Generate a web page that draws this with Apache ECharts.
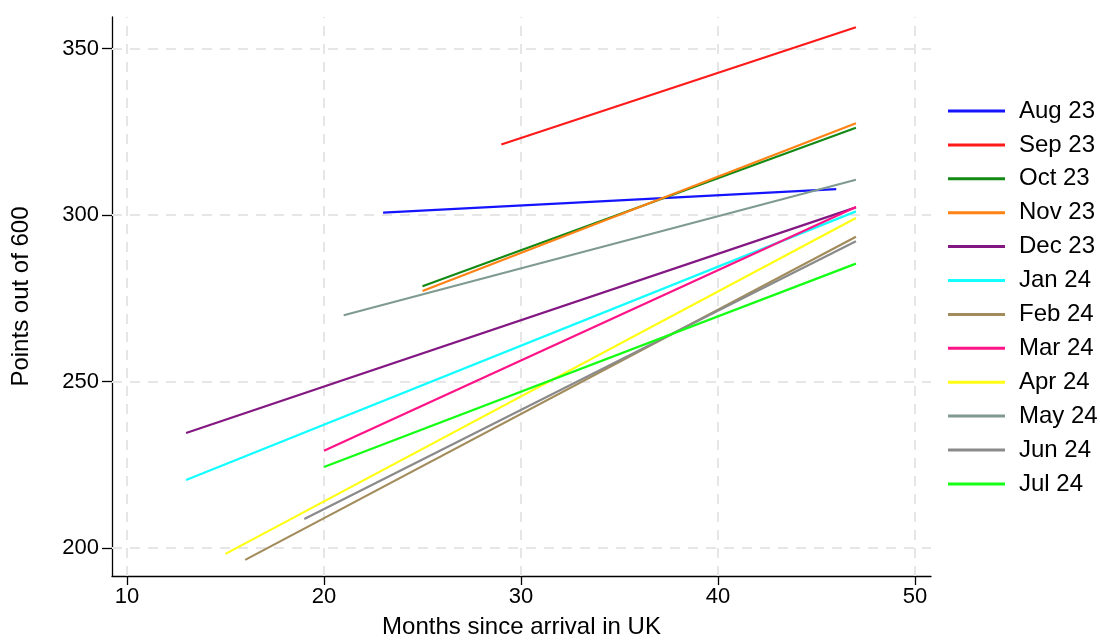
<!DOCTYPE html>
<html>
<head>
<meta charset="utf-8">
<script src="https://cdn.jsdelivr.net/npm/echarts@6/dist/echarts.min.js"></script>
<style>
  html, body { margin: 0; padding: 0; background: #ffffff; }
  #chart { width: 1100px; height: 644px; }
</style>
</head>
<body>
<div id="chart"></div>
<script>
// Survey months (legend entries)
const seriesNames = ['Aug 23', 'Sep 23', 'Oct 23', 'Nov 23', 'Dec 23', 'Jan 24',
                     'Feb 24', 'Mar 24', 'Apr 24', 'May 24', 'Jun 24', 'Jul 24'];
// Months since arrival in UK at the start and end of each fitted line
const startMonths = [23, 29, 25, 25, 13, 13, 16, 20, 15, 21, 19, 20];
const endMonths   = [46, 47, 47, 47, 47, 47, 47, 47, 47, 47, 47, 47];
// Points out of 600 at the start and end of each fitted line
const startPoints = [300.7, 321.2, 278.6, 277.2, 234.5, 220.4, 196.4, 229.2, 198.2, 269.9, 208.7, 224.3];
const endPoints   = [307.8, 356.4, 326.2, 327.6, 302.3, 301.1, 293.5, 302.4, 299.1, 310.6, 292.1, 285.4];
// Axis ticks
const xTicks = [10, 20, 30, 40, 50];
const yTicks = [200, 250, 300, 350];

const colors = ['#1414ff', '#ff1a1a', '#138a13', '#ff8214', '#831883', '#14ffff',
                '#a38c5c', '#ff1487', '#ffff14', '#7f9a8f', '#8a8a8a', '#14ff14'];

const chart = echarts.init(document.getElementById('chart'), null, { renderer: 'canvas' });

const series = seriesNames.map((name, i) => ({
  name: name,
  type: 'line',
  symbol: 'none',
  animation: false,
  z: 3,
  lineStyle: { width: 2.2, color: colors[i] },
  itemStyle: { color: colors[i] },
  data: [[startMonths[i], startPoints[i]], [endMonths[i], endPoints[i]]]
}));

const fontFamily = '"Liberation Sans", Arial, sans-serif';

chart.setOption({
  animation: false,
  backgroundColor: '#ffffff',
  color: colors,
  grid: { left: 112, top: 17, width: 819, height: 565, containLabel: false },
  legend: {
    orient: 'vertical',
    left: 948,
    top: 99,
    padding: 0,
    icon: 'rect',
    itemWidth: 57,
    itemHeight: 3,
    itemGap: 9.9,
    textStyle: { fontFamily: fontFamily, fontSize: 24, color: '#000', padding: [0, 0, 0, 9] },
    data: seriesNames
  },
  xAxis: {
    type: 'value',
    min: 9.24,
    max: 50.81,
    name: 'Months since arrival in UK',
    nameLocation: 'middle',
    nameGap: 39,
    nameTextStyle: { fontFamily: fontFamily, fontSize: 24, color: '#000' },
    axisLine: { show: true, onZero: false, lineStyle: { color: '#000', width: 1.3 } },
    axisTick: { show: true, length: 9, lineStyle: { color: '#000', width: 1.3 },
                customValues: xTicks },
    axisLabel: { fontFamily: fontFamily, fontSize: 22, color: '#000', margin: 10,
                 customValues: xTicks, showMinLabel: true, showMaxLabel: true },
    splitLine: { show: false }
  },
  yAxis: {
    type: 'value',
    min: 191.55,
    max: 359.5,
    name: 'Points out of 600',
    nameLocation: 'middle',
    nameGap: 79,
    nameTextStyle: { fontFamily: fontFamily, fontSize: 24, color: '#000' },
    axisLine: { show: true, onZero: false, lineStyle: { color: '#000', width: 1.3 } },
    axisTick: { show: true, length: 10, lineStyle: { color: '#000', width: 1.3 },
                customValues: yTicks },
    axisLabel: { fontFamily: fontFamily, fontSize: 22, color: '#000', margin: 13,
                 customValues: yTicks },
    splitLine: { show: false }
  },
  series: [
    {
      // dashed grid lines at the tick values, drawn beneath the data lines
      type: 'line',
      name: '__grid',
      silent: true,
      symbol: 'none',
      data: [],
      z: 1,
      markLine: {
        silent: true,
        symbol: 'none',
        animation: false,
        z: 1,
        label: { show: false },
        lineStyle: { color: '#e6e6e6', width: 2, type: [10, 8] },
        data: xTicks.map(v => ({ xAxis: v })).concat(yTicks.map(v => ({ yAxis: v })))
      }
    }
  ].concat(series)
});
</script>
</body>
</html>
